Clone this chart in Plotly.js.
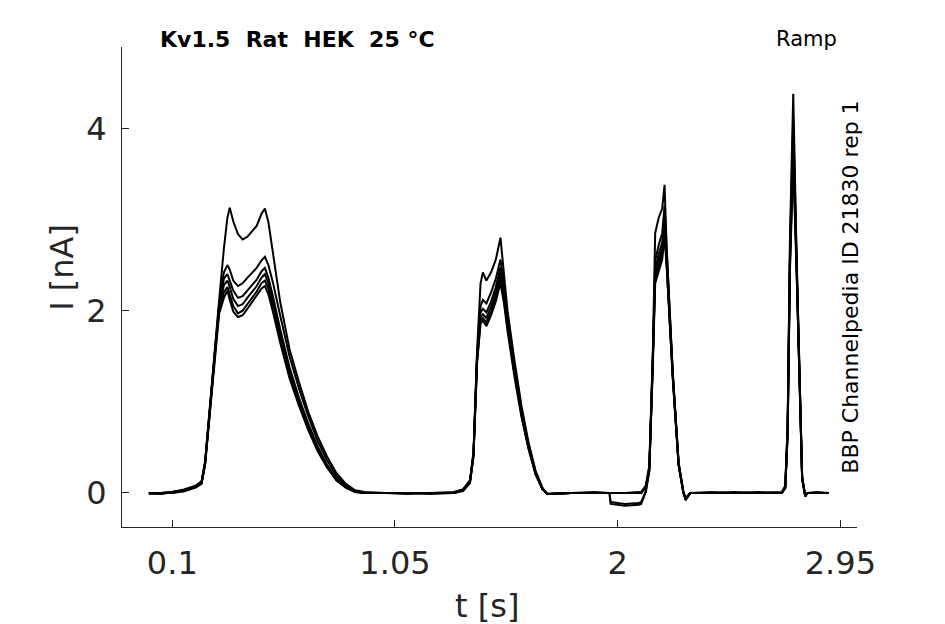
<!DOCTYPE html>
<html>
<head>
<meta charset="utf-8">
<script src="https://cdn.plot.ly/plotly-3.0.1.min.js"></script>
<style>
  html, body { margin: 0; padding: 0; background: #fff; }
  #chart { width: 945px; height: 624px; }
</style>
</head>
<body>
<div id="chart"></div>
<script>
// time base shared by all sweeps (s)
const tSec = [
  0.00, 0.05, 0.10, 0.15, 0.20, 0.225, 0.24, 0.26, 0.28, 0.30,
  0.32, 0.335, 0.345, 0.36, 0.38, 0.40, 0.42, 0.44, 0.46, 0.48,
  0.495, 0.51, 0.53, 0.56, 0.60, 0.64, 0.68, 0.72, 0.76, 0.80,
  0.84, 0.88, 0.92, 1.00, 1.10, 1.20, 1.30, 1.34, 1.37, 1.385,
  1.40, 1.415, 1.425, 1.44, 1.46, 1.48, 1.50, 1.515, 1.53, 1.56,
  1.59, 1.62, 1.65, 1.68, 1.70, 1.80, 1.90, 1.965, 1.97, 2.03,
  2.09, 2.10, 2.12, 2.135, 2.15, 2.16, 2.175, 2.19, 2.20, 2.21,
  2.235, 2.26, 2.28, 2.29, 2.31, 2.40, 2.50, 2.60, 2.70, 2.715,
  2.725, 2.735, 2.749, 2.763, 2.775, 2.787, 2.80, 2.81, 2.85, 2.90
];

// current of each sweep (nA)
const sweep1 = [
  0.00, -0.01, 0.01, 0.04, 0.08, 0.13, 0.35, 0.95, 1.58, 2.12,
  2.68, 3.02, 3.13, 2.98, 2.84, 2.78, 2.81, 2.87, 2.93, 3.06,
  3.12, 2.97, 2.62, 2.10, 1.58, 1.22, 0.89, 0.62, 0.40, 0.22,
  0.10, 0.03, 0.01, 0.00, -0.01, 0.00, 0.01, 0.04, 0.14, 0.45,
  1.55, 2.30, 2.42, 2.33, 2.42, 2.56, 2.80, 2.40, 2.00, 1.45,
  0.95, 0.55, 0.24, 0.05, -0.01, 0.00, 0.00, 0.00, 0.00, 0.00,
  0.00, 0.01, 0.08, 0.30, 1.55, 2.85, 3.02, 3.12, 3.38, 2.62,
  1.32, 0.33, 0.02, -0.08, 0.00, 0.00, 0.01, 0.00, 0.01, 0.08,
  0.75, 2.80, 4.38, 2.65, 1.25, 0.18, -0.04, 0.00, 0.00, 0.00
];
const sweep2 = [
  0.00, 0.00, 0.01, 0.03, 0.08, 0.12, 0.34, 0.93, 1.55, 2.08,
  2.42, 2.50, 2.45, 2.33, 2.27, 2.30, 2.36, 2.42, 2.47, 2.55,
  2.59, 2.50, 2.30, 1.95, 1.50, 1.15, 0.84, 0.57, 0.36, 0.19,
  0.08, 0.02, 0.00, 0.00, 0.00, -0.01, 0.00, 0.04, 0.13, 0.44,
  1.50, 2.05, 2.12, 2.08, 2.20, 2.35, 2.56, 2.30, 1.95, 1.40,
  0.92, 0.53, 0.23, 0.05, -0.01, 0.00, 0.01, 0.00, 0.00, 0.00,
  0.01, 0.00, 0.07, 0.28, 1.50, 2.55, 2.72, 2.85, 3.15, 2.60,
  1.32, 0.33, 0.01, -0.07, 0.00, 0.01, 0.00, 0.00, 0.00, 0.07,
  0.70, 2.65, 4.10, 2.60, 1.22, 0.17, -0.03, 0.00, 0.01, 0.00
];
const sweep3 = [
  -0.01, 0.00, 0.00, 0.03, 0.07, 0.12, 0.33, 0.92, 1.53, 2.05,
  2.35, 2.40, 2.33, 2.22, 2.14, 2.16, 2.22, 2.28, 2.34, 2.43,
  2.47, 2.36, 2.15, 1.80, 1.38, 1.05, 0.76, 0.51, 0.31, 0.16,
  0.07, 0.02, 0.00, 0.00, 0.00, 0.00, 0.00, 0.03, 0.13, 0.43,
  1.48, 1.98, 2.02, 1.98, 2.10, 2.26, 2.48, 2.24, 1.90, 1.36,
  0.89, 0.51, 0.22, 0.04, -0.01, 0.00, 0.00, 0.00, 0.00, 0.00,
  0.00, 0.00, 0.07, 0.27, 1.48, 2.45, 2.62, 2.75, 3.02, 2.55,
  1.30, 0.32, 0.01, -0.07, 0.00, 0.00, 0.00, 0.01, 0.00, 0.07,
  0.68, 2.60, 3.95, 2.55, 1.20, 0.17, -0.03, 0.00, 0.00, 0.00
];
const sweep4 = [
  0.00, -0.01, 0.01, 0.03, 0.07, 0.11, 0.33, 0.91, 1.52, 2.03,
  2.28, 2.33, 2.26, 2.13, 2.05, 2.07, 2.14, 2.20, 2.27, 2.36,
  2.40, 2.30, 2.08, 1.74, 1.33, 1.01, 0.73, 0.49, 0.30, 0.15,
  0.06, 0.02, 0.00, 0.00, 0.00, 0.00, 0.00, 0.03, 0.12, 0.42,
  1.46, 1.93, 1.96, 1.92, 2.04, 2.20, 2.42, 2.18, 1.86, 1.33,
  0.87, 0.50, 0.21, 0.04, -0.01, 0.00, 0.00, 0.00, -0.10, -0.12,
  -0.11, -0.10, 0.02, 0.25, 1.45, 2.40, 2.55, 2.68, 2.95, 2.50,
  1.28, 0.31, 0.01, -0.06, 0.00, 0.00, 0.00, 0.00, 0.00, 0.06,
  0.66, 2.55, 3.85, 2.52, 1.18, 0.16, -0.03, 0.00, 0.00, 0.00
];
const sweep5 = [
  0.00, 0.00, 0.00, 0.02, 0.07, 0.11, 0.32, 0.90, 1.50, 2.00,
  2.20, 2.26, 2.18, 2.05, 1.97, 2.00, 2.07, 2.14, 2.21, 2.30,
  2.33, 2.24, 2.03, 1.69, 1.29, 0.98, 0.71, 0.47, 0.29, 0.14,
  0.06, 0.01, 0.00, 0.00, 0.00, 0.00, 0.00, 0.03, 0.12, 0.41,
  1.44, 1.89, 1.92, 1.87, 1.99, 2.15, 2.36, 2.13, 1.82, 1.30,
  0.85, 0.49, 0.21, 0.04, -0.01, 0.00, 0.00, 0.00, 0.00, 0.00,
  0.00, 0.00, 0.06, 0.25, 1.43, 2.35, 2.48, 2.62, 2.88, 2.47,
  1.27, 0.31, 0.01, -0.06, 0.00, 0.00, 0.00, 0.00, 0.00, 0.06,
  0.65, 2.50, 3.75, 2.50, 1.16, 0.16, -0.03, 0.00, 0.00, 0.00
];
const sweep6 = [
  0.00, 0.00, 0.01, 0.02, 0.06, 0.10, 0.31, 0.88, 1.48, 1.97,
  2.14, 2.22, 2.12, 1.99, 1.93, 1.95, 2.02, 2.09, 2.16, 2.24,
  2.27, 2.18, 1.98, 1.65, 1.26, 0.96, 0.69, 0.46, 0.28, 0.14,
  0.06, 0.01, 0.00, 0.00, 0.00, 0.00, 0.00, 0.02, 0.11, 0.40,
  1.42, 1.86, 1.89, 1.83, 1.95, 2.10, 2.30, 2.08, 1.78, 1.27,
  0.83, 0.48, 0.20, 0.04, -0.01, 0.00, 0.00, 0.00, -0.12, -0.14,
  -0.13, -0.12, 0.01, 0.24, 1.40, 2.30, 2.43, 2.56, 2.82, 2.44,
  1.25, 0.30, 0.00, -0.06, 0.00, 0.00, 0.00, 0.00, 0.00, 0.05,
  0.62, 2.45, 3.62, 2.45, 1.14, 0.15, -0.03, 0.00, 0.00, 0.00
];

const sweeps = [sweep1, sweep2, sweep3, sweep4, sweep5, sweep6];

const xTicks = [0.1, 1.05, 2, 2.95];
const xTickText = ['0.1', '1.05', '2', '2.95'];
const yTicks = [0, 2, 4];
const yTickText = ['0', '2', '4'];

const titleText = 'Kv1.5\u00a0\u00a0Rat\u00a0\u00a0HEK\u00a0\u00a025\u00a0°C';
const protocolText = 'Ramp';
const sourceText = 'BBP Channelpedia ID 21830 rep 1';

const axisGrey = '#262626';
const font = 'DejaVu Sans, sans-serif';

const data = sweeps.map((current) => ({
  type: 'scatter',
  mode: 'lines',
  x: tSec,
  y: current,
  line: { color: '#000', width: 2 },
  hoverinfo: 'skip',
  showlegend: false
}));

const axisCommon = {
  showgrid: false,
  zeroline: false,
  showline: true,
  linecolor: axisGrey,
  linewidth: 1,
  ticks: 'inside',
  ticklen: 7,
  tickwidth: 1,
  tickcolor: axisGrey,
  tickfont: { family: font, size: 32, color: axisGrey },
  tickmode: 'array'
};

const layout = {
  width: 945,
  height: 624,
  margin: { l: 122, r: 88, t: 47, b: 97 },
  paper_bgcolor: '#fff',
  plot_bgcolor: '#fff',
  xaxis: Object.assign({}, axisCommon, {
    range: [-0.1146, 3.021],
    tickvals: xTicks,
    ticktext: xTickText,
    ticklabelstandoff: 8
  }),
  yaxis: Object.assign({}, axisCommon, {
    range: [-0.373, 4.892],
    tickvals: yTicks,
    ticktext: yTickText,
    ticklabelstandoff: 8
  }),
  annotations: [
    {
      text: titleText, xref: 'paper', yref: 'paper', x: 0.049, y: 1.0156,
      xanchor: 'left', yanchor: 'middle', showarrow: false,
      font: { family: font, size: 22, color: '#000', weight: 'bold' }
    },
    {
      text: protocolText, xref: 'paper', yref: 'paper', x: 0.976, y: 1.0177,
      xanchor: 'right', yanchor: 'middle', showarrow: false,
      font: { family: font, size: 21, color: '#000' }
    },
    {
      text: sourceText, xref: 'paper', yref: 'paper', x: 0.990, y: 0.50,
      xanchor: 'center', yanchor: 'middle', textangle: -90, showarrow: false,
      font: { family: font, size: 22, color: '#000' }
    },
    {
      text: 't [s]', xref: 'paper', yref: 'paper', x: 0.4966, y: -0.164,
      xanchor: 'center', yanchor: 'middle', showarrow: false,
      font: { family: font, size: 32, color: axisGrey }
    },
    {
      text: 'I [nA]', xref: 'paper', yref: 'paper', x: -0.0816, y: 0.54,
      xanchor: 'center', yanchor: 'middle', textangle: -90, showarrow: false,
      font: { family: font, size: 32, color: axisGrey }
    }
  ]
};

Plotly.newPlot('chart', data, layout, { staticPlot: true, displayModeBar: false });
</script>
</body>
</html>
